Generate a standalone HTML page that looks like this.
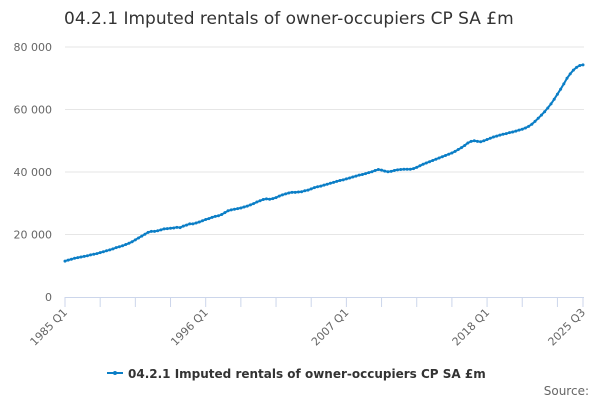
<!DOCTYPE html>
<html><head><meta charset="utf-8"><style>
body{margin:0;background:#fff;width:600px;height:400px;overflow:hidden;font-family:"DejaVu Sans","Liberation Sans",sans-serif}
</style></head><body>
<svg id="chart" width="600" height="400" xmlns="http://www.w3.org/2000/svg">
<text x="64" y="24" font-size="17" fill="#333">04.2.1 Imputed rentals of owner-occupiers CP SA £m</text>
<g id="grid"></g><g id="axes"></g><g id="series"></g>
<g>
<line x1="107" y1="373" x2="123" y2="373" stroke="#0b7ec6" stroke-width="2"/>
<circle cx="115" cy="373" r="2" fill="#0b7ec6"/>
<text x="128" y="378" font-size="12" font-weight="bold" fill="#333">04.2.1 Imputed rentals of owner-occupiers CP SA £m</text>
</g>
<text x="589" y="395" font-size="12" fill="#666" text-anchor="end">Source:</text>
</svg>
<script>
const yTicks=[0,20000,40000,60000,80000];
const yTickLabels=["0","20 000","40 000","60 000","80 000"];
const xLabelIdx=[0,44,88,132,162];
const xLabels=["1985 Q1","1996 Q1","2007 Q1","2018 Q1","2025 Q3"];
const values=[
11500,11800,12100,12400, 12600,12800,13000,13200, 13500,13700,13900,14200, 14500,14800,15100,15400, 15800,16100,16400,16800, 17200,17700,18300,18900, 19500,20100,20700,21000, 21000,21200,21500,21800, 21900,22000,22100,22300, 22200,22700,23000,23400, 23400,23700,24000,24400, 24800,25100,25500,25800, 26000,26400,27000,27600, 27900,28100,28300,28500, 28800,29100,29500,29900, 30400,30800,31200,31400, 31300,31500,31800,32300, 32700,33000,33300,33500, 33500,33600,33700,34000, 34200,34600,35000,35300, 35500,35800,36100,36400, 36700,37000,37300,37500, 37800,38100,38400,38700, 39000,39200,39500,39800, 40100,40500,40800,40600, 40300,40100,40200,40500, 40700,40800,40900,40900, 40900,41100,41500,42000, 42500,42900,43300,43700, 44100,44500,44900,45300, 45700,46100,46600,47200, 47800,48500,49300,49800, 50000,49800,49700,50000, 50400,50800,51200,51500, 51800,52100,52300,52600, 52800,53100,53400,53700, 54100,54600,55300,56200, 57200,58200,59300,60500, 61800,63300,64900,66500, 68200,70000,71400,72600, 73500,74100,74300];
const X0=65,X1=583,Y0=297,Y1=47,N=162;
const xs=i=>X0+(X1-X0)*i/N;
const ys=v=>Y0-(Y0-Y1)*v/80000;
const NS="http://www.w3.org/2000/svg";
function mk(tag,attrs,parent){const e=document.createElementNS(NS,tag);for(const k in attrs)e.setAttribute(k,attrs[k]);document.getElementById(parent).appendChild(e);return e;}
yTicks.forEach((t,i)=>{
 if(t>0){const g=mk('line',{x1:X0,x2:X1+1,y1:ys(t),y2:ys(t),stroke:'#e6e6e6','stroke-width':1},'grid');
 
 }
 const l=mk('text',{x:52,y:ys(t)+4,'font-size':11,fill:'#666','text-anchor':'end'},'axes');
 l.textContent=yTickLabels[i];
 
 
});
const ax=mk('line',{x1:X0,x2:X1+1,y1:Y0+0.5,y2:Y0+0.5,stroke:'#ccd6eb','stroke-width':1},'axes');


for(let i=0;i<=N;i+=11){
 const t=mk('line',{x1:xs(i),x2:xs(i),y1:Y0,y2:Y0+10,stroke:'#ccd6eb','stroke-width':1},'axes');
 
 
}
const te=mk('line',{x1:xs(N),x2:xs(N),y1:Y0,y2:Y0+10,stroke:'#ccd6eb','stroke-width':1},'axes');


xLabelIdx.forEach((idx,i)=>{
 const x=xs(idx)+3,y=Y0+16;
 const l=mk('text',{x:x,y:y,'font-size':11,fill:'#666','text-anchor':'end',transform:`rotate(-45 ${x} ${y})`},'axes');
 l.textContent=xLabels[i];
 
 
});
const d=values.map((v,i)=>(i?'L':'M')+xs(i).toFixed(1)+' '+ys(v).toFixed(1)).join(' ');
const p=mk('path',{d:d,fill:'none',stroke:'#0b7ec6','stroke-width':2},'series');


values.forEach((v,i)=>{
 const c=mk('circle',{cx:xs(i),cy:ys(v),r:1.5,fill:'#0b7ec6'},'series');
 
 
});
</script>
</body></html>
